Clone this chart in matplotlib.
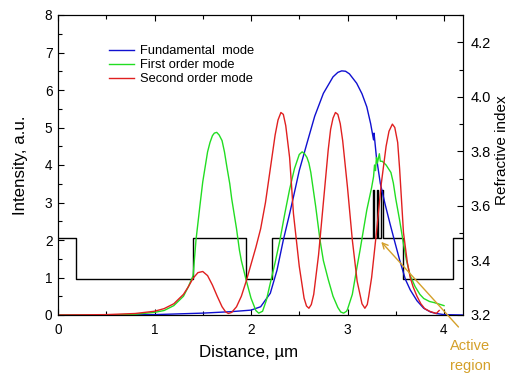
import matplotlib
matplotlib.use('Agg')
import matplotlib.pyplot as plt
from matplotlib.ticker import MultipleLocator

plt.rcParams['font.family'] = ['Liberation Sans', 'DejaVu Sans']

# Fundamental mode (blue)
x_fund = [0.0, 0.5, 1.0, 1.5, 1.8, 2.0, 2.1, 2.2, 2.27, 2.335, 2.4, 2.44, 2.5, 2.58, 2.66,
          2.75, 2.85, 2.9, 2.94, 2.98, 3.02, 3.095, 3.15, 3.2, 3.24, 3.27, 3.275, 3.3, 3.34, 3.39,
          3.44, 3.49, 3.54, 3.6, 3.65, 3.72, 3.79, 3.86, 3.92, 4.0, 4.2]
y_fund = [0.0, 0.0, 0.01, 0.05, 0.09, 0.13, 0.22, 0.58, 1.2, 2.0, 2.7, 3.15, 3.85, 4.58, 5.3,
          5.91, 6.35, 6.47, 6.51, 6.5, 6.43, 6.18, 5.9, 5.55, 5.1, 4.67, 4.85, 4.2, 3.51, 2.95,
          2.44, 1.95, 1.47, 0.95, 0.67, 0.38, 0.18, 0.08, 0.04, 0.01, 0.0]

# First order mode (green)
x_first = [0.0, 0.5, 0.8, 1.0, 1.1, 1.2, 1.3, 1.35, 1.4, 1.43, 1.47, 1.5, 1.55, 1.575, 1.6,
           1.62, 1.645, 1.67, 1.7, 1.725, 1.75, 1.78, 1.8, 1.85, 1.88, 1.9, 1.95, 2.0, 2.05,
           2.08, 2.12, 2.16, 2.2, 2.25, 2.3, 2.35, 2.4, 2.45, 2.5, 2.53, 2.555, 2.58, 2.6,
           2.62, 2.67, 2.715, 2.75, 2.8, 2.85, 2.9, 2.93, 2.96, 2.99, 3.0, 3.05, 3.1, 3.13,
           3.2, 3.25, 3.27, 3.28, 3.29, 3.3, 3.31, 3.33, 3.34, 3.36, 3.4, 3.45, 3.475, 3.5,
           3.54, 3.58, 3.61, 3.65, 3.7, 3.75, 3.79, 3.85, 3.9, 4.0]
y_first = [0.0, 0.0, 0.02, 0.07, 0.12, 0.25, 0.5, 0.75, 1.05, 2.0, 2.9, 3.55, 4.35, 4.6, 4.78,
           4.85, 4.87, 4.8, 4.65, 4.35, 3.95, 3.5, 3.1, 2.3, 1.73, 1.45, 0.93, 0.45, 0.12,
           0.05, 0.1, 0.4, 0.85, 1.4, 2.0, 2.7, 3.35, 3.9, 4.28, 4.35, 4.3, 4.2, 4.05,
           3.8, 2.9, 2.0, 1.45, 0.95, 0.5, 0.2, 0.08, 0.05, 0.1, 0.15, 0.55, 1.3, 1.73,
           2.8, 3.4, 3.69, 4.0, 3.85, 4.2, 4.05, 4.3, 4.1, 4.1, 4.0, 3.8, 3.52, 3.1,
           2.53, 1.9, 1.47, 1.05, 0.76, 0.55, 0.44, 0.36, 0.33, 0.25]

# Second order mode (red)
x_second = [0.0, 0.5, 0.8, 1.0, 1.1, 1.2, 1.3, 1.35, 1.4, 1.45, 1.5, 1.55, 1.6, 1.65, 1.7,
            1.735, 1.765, 1.8, 1.85, 1.9, 1.95, 2.0, 2.05, 2.1, 2.15, 2.2, 2.25, 2.28, 2.31,
            2.335, 2.36, 2.4, 2.44, 2.5, 2.55, 2.575, 2.6, 2.625, 2.65, 2.7, 2.75, 2.8, 2.825,
            2.85, 2.875, 2.9, 2.925, 2.95, 3.0, 3.05, 3.1, 3.15, 3.18, 3.205, 3.22, 3.25, 3.3,
            3.35, 3.4, 3.43, 3.465, 3.49, 3.52, 3.54, 3.58, 3.62, 3.65, 3.68, 3.72, 3.76,
            3.8, 3.85, 3.92, 3.95]
y_second = [0.0, 0.01, 0.04, 0.1, 0.17, 0.3, 0.55, 0.75, 0.98, 1.13, 1.16, 1.05, 0.8, 0.5, 0.22,
            0.09, 0.04, 0.07, 0.22, 0.5, 0.9, 1.35, 1.8, 2.3, 3.0, 3.9, 4.8, 5.2, 5.4,
            5.35, 5.05, 4.2, 2.7, 1.3, 0.45, 0.24, 0.18, 0.28, 0.55, 1.6, 3.0, 4.4, 4.95,
            5.25, 5.4, 5.35, 5.1, 4.65, 3.4, 2.0, 0.9, 0.3, 0.18, 0.28, 0.5, 1.0, 2.2,
            3.5, 4.5, 4.9, 5.09, 5.0, 4.6, 3.9, 2.2, 1.4, 1.0, 0.75, 0.5, 0.3,
            0.17, 0.1, 0.04, 0.12]

# Refractive index profile (right axis), step edges incl. three quantum wells
x_index = [0.0, 0.19, 1.40, 1.95, 2.215, 3.263, 3.279, 3.304, 3.320, 3.348, 3.364, 3.58, 4.09, 4.2]
n_index = [3.482, 3.332, 3.482, 3.332, 3.482, 3.66, 3.482, 3.66, 3.482, 3.66, 3.482, 3.332, 3.482, 3.482]

labels = ['Fundamental  mode', 'First order mode', 'Second order mode']
colors = ['#1010d0', '#22dd22', '#e02020']

fig = plt.figure(figsize=(5.09, 3.76), dpi=100)
ax = fig.add_axes([58 / 509, 1 - 315 / 376, 405.3 / 509, 300 / 376])
ax2 = ax.twinx()

ax2.plot(x_index, n_index, drawstyle='steps-post', color='black', lw=1.0)
ax.plot(x_fund, y_fund, color=colors[0], lw=1.0, label=labels[0])
ax.plot(x_first, y_first, color=colors[1], lw=1.0, label=labels[1])
ax.plot(x_second, y_second, color=colors[2], lw=1.0, label=labels[2])
ax.set_zorder(ax2.get_zorder() + 1)
ax.patch.set_visible(False)

ax.set_xlim(0, 4.2)
ax.set_ylim(0, 8)
ax2.set_ylim(3.2, 4.3)

ax.xaxis.set_major_locator(MultipleLocator(1))
ax.xaxis.set_minor_locator(MultipleLocator(0.5))
ax.yaxis.set_major_locator(MultipleLocator(1))
ax.yaxis.set_minor_locator(MultipleLocator(0.5))
ax2.yaxis.set_major_locator(MultipleLocator(0.2))
ax2.yaxis.set_minor_locator(MultipleLocator(0.1))

ax.tick_params(which='both', direction='in', top=True, right=False, labelsize=9.8)
ax.tick_params(axis='x', pad=6)
ax.tick_params(axis='y', pad=4)
ax.tick_params(which='major', length=4, width=0.8)
ax.tick_params(which='minor', length=3, width=0.8)
ax2.tick_params(which='both', direction='in', labelsize=10.5, pad=5)
ax2.tick_params(which='major', length=4, width=0.8)
ax2.tick_params(which='minor', length=3, width=0.8)
ax2.yaxis.set_major_formatter(plt.FormatStrFormatter('%.1f'))

ax.set_xlabel('Distance, µm', fontsize=12.2)
ax.xaxis.set_label_coords(0.469, -0.10)
ax.set_ylabel('Intensity, a.u.', fontsize=12.2)
ax.yaxis.set_label_coords(-0.074, 0.5)
ax2.set_ylabel('Refractive index', fontsize=11)
ax2.yaxis.set_label_coords(1.078, 0.55)

ax.legend(loc='upper left', bbox_to_anchor=(0.104, 0.93), frameon=False, fontsize=9.3,
          handlelength=1.95, handletextpad=0.45, labelspacing=0.15, borderpad=0.2)

gold = '#d4a02a'
ax.annotate('', xy=(3.35, 1.95), xytext=(4.15, -0.32), annotation_clip=False,
            arrowprops=dict(arrowstyle='->', color=gold, lw=1.0, shrinkA=0, shrinkB=0))
ax.text(4.27, -1.1, 'Active\nregion', color=gold, fontsize=10.5, ha='center', va='center',
        linespacing=1.55, clip_on=False)

fig.savefig('out.png', dpi=100)
